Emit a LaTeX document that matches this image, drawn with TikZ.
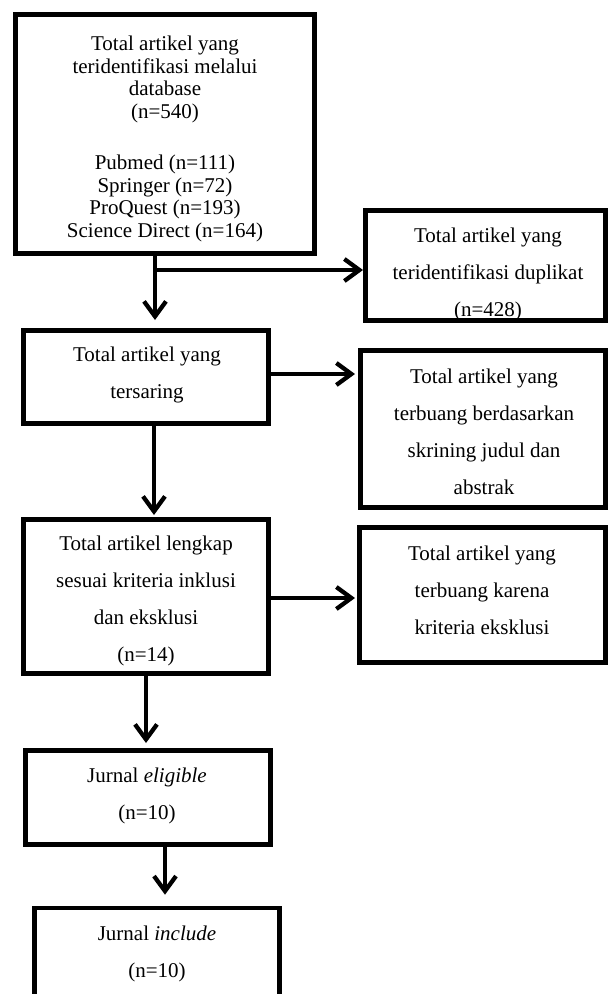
\documentclass[tikz,border=0pt]{standalone}
\usepackage{fontspec}
\setmainfont{Liberation Serif}
\usetikzlibrary{arrows.meta}
\tikzset{
  box/.style={draw=black, line width=4.6pt, fill=white, inner sep=0pt},
  txt/.style={align=center, inner sep=0pt, font=\fontsize{21}{37}\selectfont},
  txttight/.style={align=center, inner sep=0pt, font=\fontsize{21}{22.5}\selectfont},
  conn/.style={line width=3.4pt, -{Straight Barb[length=15pt,width=22pt,line width=4.3pt]}}
}
\begin{document}
\begin{tikzpicture}[x=1pt,y=-1pt]
\useasboundingbox (0,0) rectangle (610,994);
\clip (0,0) rectangle (610,994);
\fill[white] (0,0) rectangle (610,994);

% boxes
\node[box, minimum width=299.4, minimum height=239.4] (b1) at (165,134) {};
\node[box, minimum width=240.4, minimum height=110.4] (bdup) at (485.5,265.5) {};
\node[box, minimum width=245.4, minimum height=93.4] (b2) at (146,377) {};
\node[box, minimum width=245.4, minimum height=157.4] (b3) at (483,429) {};
\node[box, minimum width=245.4, minimum height=154.4] (b4) at (146,596.5) {};
\node[box, minimum width=246.4, minimum height=135.4] (b5) at (482.5,595) {};
\node[box, minimum width=245.4, minimum height=94.4] (b6) at (148,797.5) {};
\node[box, minimum width=245.4, minimum height=110] (b7) at (157,963) {};

% texts
\node[txttight] (t1) at (165,139) {Total artikel yang\\teridentifikasi melalui\\database\\(n=540)\\[29pt]Pubmed (n=111)\\Springer (n=72)\\ProQuest (n=193)\\Science Direct (n=164)};
\node[txt] (tdup) at (488,274.5) {Total artikel yang\\teridentifikasi duplikat\\(n=428)};
\node[txt] (t2) at (147,375) {Total artikel yang\\tersaring};
\node[txt] (t3) at (484,432) {Total artikel yang\\terbuang berdasarkan\\skrining judul dan\\abstrak};
\node[txt] (t4) at (146,601) {Total artikel lengkap\\sesuai kriteria inklusi\\dan eksklusi\\(n=14)};
\node[txt] (t5) at (482,590.5) {Total artikel yang\\terbuang karena\\kriteria eksklusi};
\node[txt] (t6) at (147,796) {Jurnal \textit{eligible}\\(n=10)};
\node[txt] (t7) at (157,954) {Jurnal \textit{include}\\(n=10)};

% connector positions
\coordinate (c1) at (155,0);
\coordinate (br) at (155,270);
\coordinate (c2) at (0,374);
\coordinate (c3) at (154,0);
\coordinate (c4) at (0,598);
\coordinate (c5) at (146,0);
\coordinate (c6) at (165,0);

% connectors
\draw[conn, shorten >=8pt] (b1.south -| c1) -- (b2.north -| c1);
\draw[conn] (br) -- (br -| bdup.west);
\draw[conn, shorten >=3pt] (b2.east |- c2) -- (b3.west |- c2);
\draw[conn, shorten >=2pt] (b2.south -| c3) -- (b4.north -| c3);
\draw[conn, shorten >=2pt] (b4.east |- c4) -- (b5.west |- c4);
\draw[conn, shorten >=5pt] (b4.south -| c5) -- (b6.north -| c5);
\draw[conn, shorten >=11pt] (b6.south -| c6) -- (b7.north -| c6);
\end{tikzpicture}
\end{document}
